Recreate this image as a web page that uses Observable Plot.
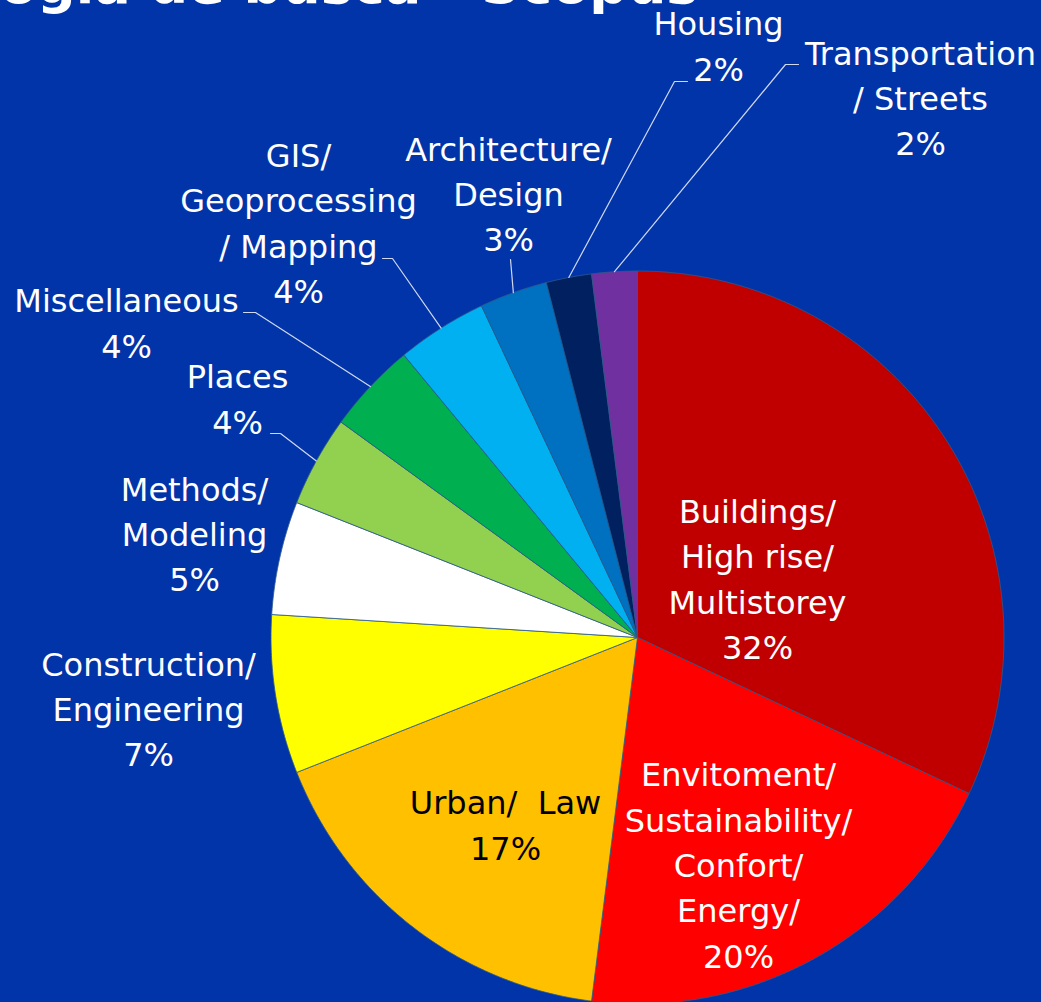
<!DOCTYPE html>
<html>
<head>
<meta charset="utf-8">
<script src="https://cdn.jsdelivr.net/npm/d3@7"></script>
<script src="https://cdn.jsdelivr.net/npm/@observablehq/plot@0.6"></script>
<style>
  html, body { margin: 0; padding: 0; background: #0134a9; overflow: hidden; }
  #chart svg { display: block; }
</style>
</head>
<body>
<div id="chart"></div>
<script>
// ---- data (clockwise from 12 o'clock) ----
const categories = [
  "Buildings", "Envitoment", "Urban", "Construction", "Methods",
  "Places", "Miscellaneous", "GIS", "Architecture", "Housing", "Transportation"
];
const values = [32, 20, 17, 7, 5, 4, 4, 4, 3, 2, 2];
const labelTexts = [
  "Buildings/\nHigh rise/\nMultistorey",
  "Envitoment/\nSustainability/\nConfort/\nEnergy/",
  "Urban/  Law",
  "Construction/\nEngineering",
  "Methods/\nModeling",
  "Places",
  "Miscellaneous",
  "GIS/\nGeoprocessing\n/ Mapping",
  "Architecture/\nDesign",
  "Housing",
  "Transportation\n/ Streets"
];
const titleText = "Metodologia de busca - Scopus";

// ---- styles & layout ----
const colors = ["#c00000", "#ff0000", "#ffc000", "#ffff00", "#ffffff",
  "#92d050", "#00b050", "#00b0f0", "#0070c0", "#002060", "#7030a0"];
const textColors = ["white", "white", "black", "white", "white",
  "white", "white", "white", "white", "white", "white"];
const W = 1041, H = 1002;
const cx = 637, cy = 637, R = 366.5;
// label block centres (pixels)
const labelPos = [
  [757, 576], [738, 862], [505, 822], [148, 706], [194, 531],
  [237, 396], [126, 320], [298, 220], [508, 191], [718, 43], [920, 95]
];
// leader line start points (label side), null = none
const leaderStart = [
  null, null, null, null, null,
  [[270, 433], [280, 433]],
  [[243, 312], [255, 312]],
  [[382, 258], [392, 258]],
  [[510, 259]],
  [[687, 81], [674, 81]],
  [[798, 64], [785, 64]]
];

// ---- derived ----
const total = d3.sum(values);
const rows = [];
let cum = 0;
categories.forEach((c, i) => {
  const a0 = cum / total * 2 * Math.PI;
  cum += values[i];
  const a1 = cum / total * 2 * Math.PI;
  rows.push({cat: c, value: values[i], a0, a1, i});
});
const pt = (a, r) => [cx + r * Math.sin(a), cy - r * Math.cos(a)];

const slicePts = [];
for (const s of rows) {
  slicePts.push({cat: s.cat, x: cx, y: cy});
  const n = Math.max(2, Math.ceil((s.a1 - s.a0) / (Math.PI / 360)));
  for (let k = 0; k <= n; k++) {
    const a = s.a0 + (s.a1 - s.a0) * k / n;
    const [x, y] = pt(a, R);
    slicePts.push({cat: s.cat, x, y});
  }
  slicePts.push({cat: s.cat, x: cx, y: cy});
}

const labels = rows.map(s => ({
  text: labelTexts[s.i] + "\n" + s.value + "%",
  x: labelPos[s.i][0], y: labelPos[s.i][1],
  color: textColors[s.i]
}));

const leaderPts = [];
rows.forEach(s => {
  const st = leaderStart[s.i];
  if (!st) return;
  st.forEach(p => leaderPts.push({cat: s.cat, x: p[0], y: p[1]}));
  const [ex, ey] = pt((s.a0 + s.a1) / 2, R);
  leaderPts.push({cat: s.cat, x: ex, y: ey});
});

const chart = Plot.plot({
  width: W, height: H,
  margin: 0,
  style: {background: "#0134a9", fontFamily: "DejaVu Sans, sans-serif"},
  x: {domain: [0, W], range: [0, W], axis: null},
  y: {domain: [0, H], range: [0, H], axis: null},
  color: {domain: categories, range: colors},
  marks: [
    Plot.line(slicePts, {x: "x", y: "y", z: "cat", fill: "cat", stroke: "#2d5a8a", strokeWidth: 0.8, curve: "linear-closed"}),
    Plot.line(leaderPts, {x: "x", y: "y", z: "cat", stroke: "#d0d8ee", strokeWidth: 1.2}),
    Plot.text(labels, {x: "x", y: "y", text: "text", fill: "color", fontSize: 32, lineHeight: 1.42, textAnchor: "middle", lineAnchor: "middle"}),
    Plot.text([{t: titleText, x: 698, y: 2}], {x: "x", y: "y", text: "t", fill: "white", fontSize: 54, fontWeight: "bold", textAnchor: "end", lineAnchor: "bottom"})
  ]
});
document.getElementById("chart").appendChild(chart);
</script>
</body>
</html>
